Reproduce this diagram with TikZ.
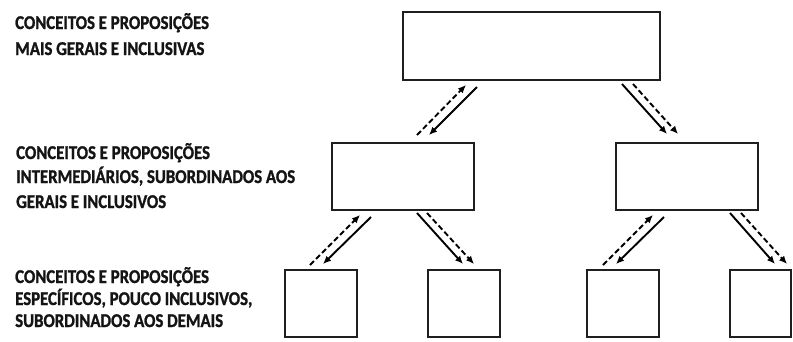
\documentclass[tikz,border=0pt]{standalone}
\usepackage{fontspec}
\setmainfont{Carlito}
\newfontfamily\levelfont[FakeStretch=0.86,FakeBold=1.2]{Carlito Bold}
\usetikzlibrary{arrows.meta}
\begin{document}
\begin{tikzpicture}[x=1pt,y=-1pt,
  box/.style={draw=black!88,line width=2.3pt,inner sep=0pt,fill=white},
  lbl/.style={anchor=base west,inner sep=0pt,text=black!92,font=\levelfont\fontsize{19.5}{22}\selectfont},
  link/.style={line width=1.9pt,draw=black,-{Latex[length=8pt,width=7pt]}},
  linkd/.style={link,dash pattern=on 5.5pt off 3pt}]
\useasboundingbox (0,0) rectangle (793,341);
% level labels
\node[lbl] (l1a) at (15,29) {CONCEITOS E PROPOSIÇÕES};
\node[lbl] (l1b) at (15,55) {MAIS GERAIS E INCLUSIVAS};
\node[lbl] (l2a) at (16,159) {CONCEITOS E PROPOSIÇÕES};
\node[lbl] (l2b) at (16,183) {INTERMEDIÁRIOS, SUBORDINADOS AOS};
\node[lbl] (l2c) at (16,208) {GERAIS E INCLUSIVOS};
\node[lbl] (l3a) at (15,283) {CONCEITOS E PROPOSIÇÕES};
\node[lbl] (l3b) at (15,305) {ESPECÍFICOS, POUCO INCLUSIVOS,};
\node[lbl] (l3c) at (15,327) {SUBORDINADOS AOS DEMAIS};
% concept boxes
\node[box,minimum width=257pt,minimum height=68pt] (top) at (531.5,46) {};
\node[box,minimum width=142pt,minimum height=67pt] (ml) at (403,176.5) {};
\node[box,minimum width=142pt,minimum height=67pt] (mr) at (687,176.5) {};
\node[box,minimum width=72pt,minimum height=67pt] (b1) at (321,303.5) {};
\node[box,minimum width=72pt,minimum height=67pt] (b2) at (464,303.5) {};
\node[box,minimum width=72pt,minimum height=67pt] (b3) at (623,303.5) {};
\node[box,minimum width=61pt,minimum height=67pt] (b4) at (760.5,303.5) {};
% arrow end points
\coordinate (a1s) at (417,135); \coordinate (a1e) at (466,85);
\coordinate (a2s) at (477,87);  \coordinate (a2e) at (429,135);
\coordinate (a3s) at (622,84);  \coordinate (a3e) at (667,134);
\coordinate (a4s) at (633,84);  \coordinate (a4e) at (678,134);
\coordinate (a5s) at (310,265); \coordinate (a5e) at (360,215);
\coordinate (a6s) at (371,217); \coordinate (a6e) at (323,264);
\coordinate (a7s) at (417,213); \coordinate (a7e) at (463,264);
\coordinate (a8s) at (427,213); \coordinate (a8e) at (474,264);
\coordinate (a9s) at (603,265); \coordinate (a9e) at (653,215);
\coordinate (a10s) at (664,217); \coordinate (a10e) at (616,264);
\coordinate (a11s) at (730,213); \coordinate (a11e) at (775,264);
\coordinate (a12s) at (741,213); \coordinate (a12e) at (787,264);
% arrows
\draw[linkd] (a1s) -- (a1e);
\draw[link]  (a2s) -- (a2e);
\draw[link]  (a3s) -- (a3e);
\draw[linkd] (a4s) -- (a4e);
\draw[linkd] (a5s) -- (a5e);
\draw[link]  (a6s) -- (a6e);
\draw[link]  (a7s) -- (a7e);
\draw[linkd] (a8s) -- (a8e);
\draw[linkd] (a9s) -- (a9e);
\draw[link]  (a10s) -- (a10e);
\draw[link]  (a11s) -- (a11e);
\draw[linkd] (a12s) -- (a12e);
\end{tikzpicture}
\end{document}
